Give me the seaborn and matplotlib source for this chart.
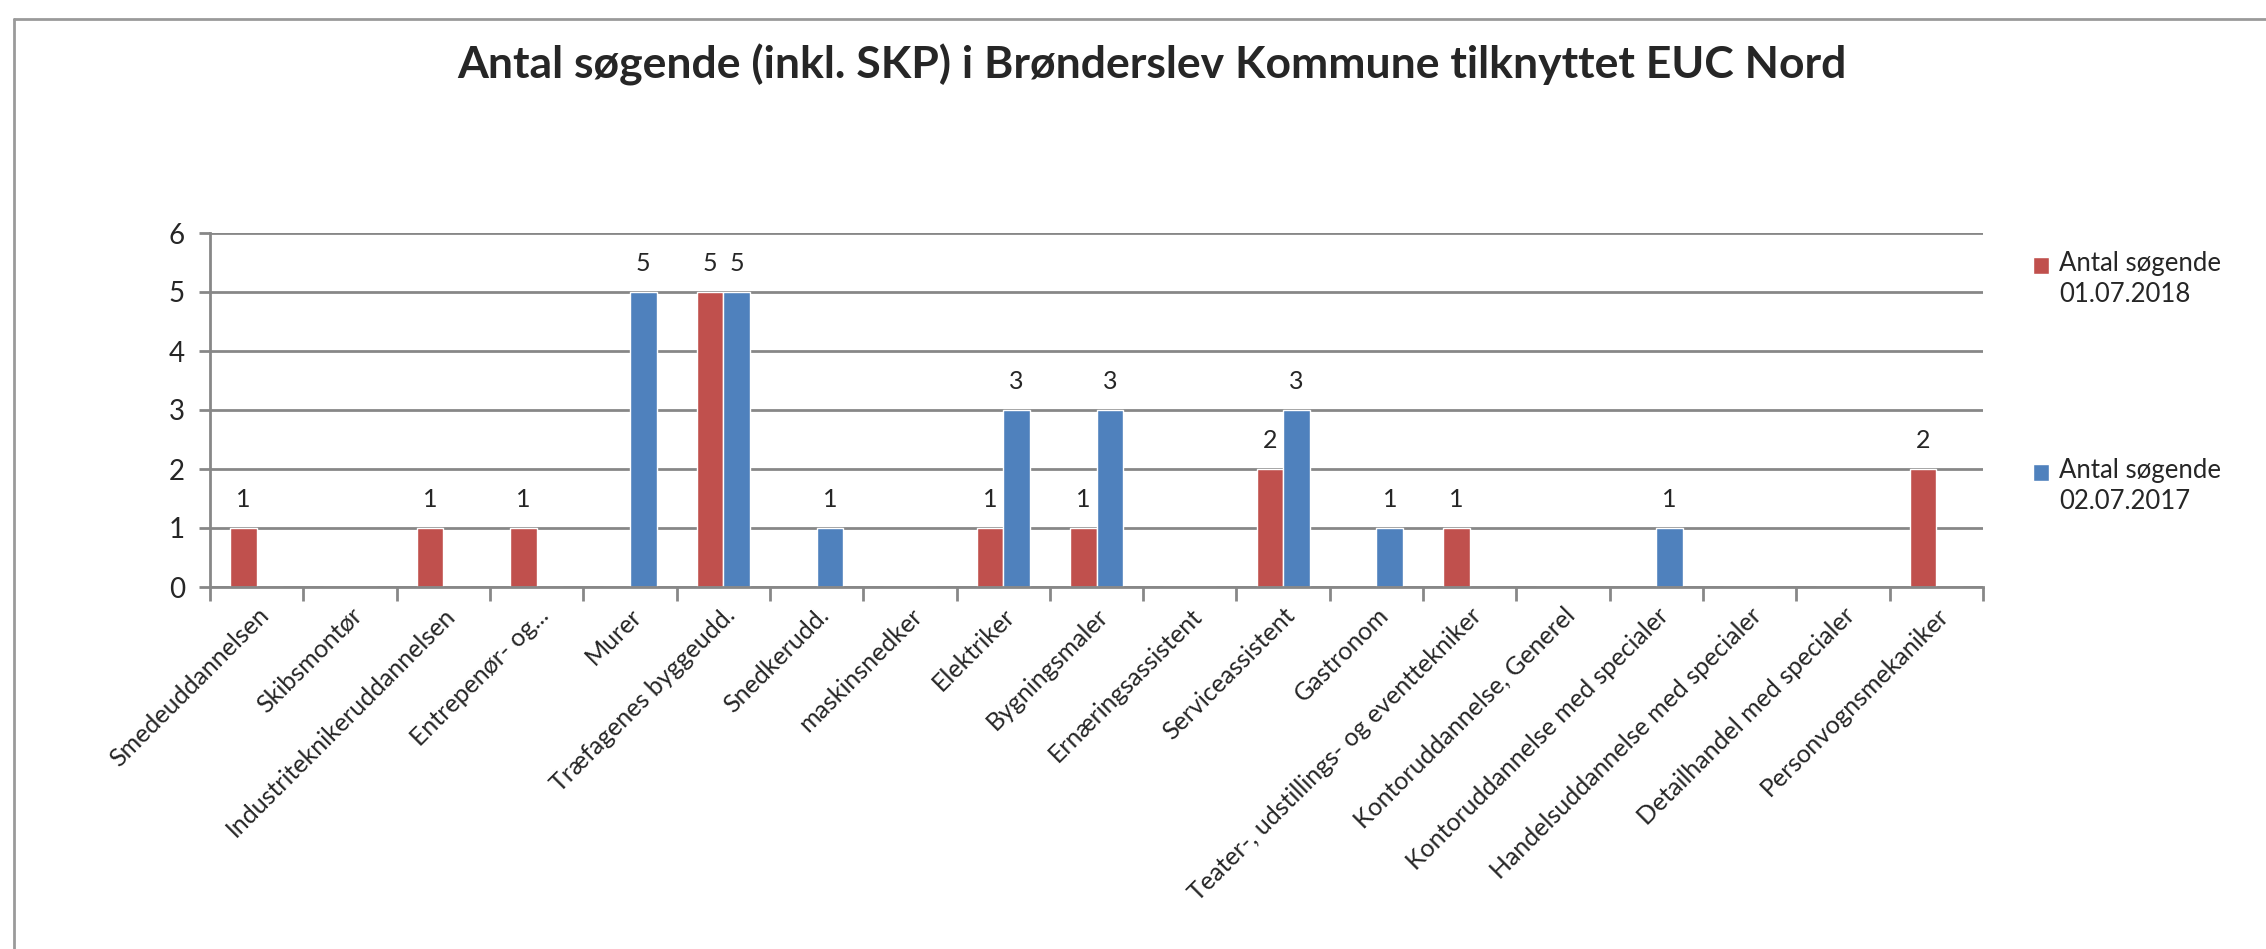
import pandas as pd
import numpy as np
import matplotlib
matplotlib.use('Agg')
import matplotlib.pyplot as plt
import seaborn as sns
from matplotlib.lines import Line2D

# Data
categories = ['Smedeuddannelsen', 'Skibsmontør', 'Industriteknikeruddannelsen',
              'Entrepenør- og...', 'Murer', 'Træfagenes byggeudd.', 'Snedkerudd.',
              'maskinsnedker', 'Elektriker', 'Bygningsmaler', 'Ernæringsassistent',
              'Serviceassistent', 'Gastronom', 'Teater-, udstillings- og eventtekniker',
              'Kontoruddannelse, Generel', 'Kontoruddannelse med specialer',
              'Handelsuddannelse med specialer', 'Detailhandel med specialer',
              'Personvognsmekaniker']
soegende_2018 = [1, 0, 1, 1, 0, 5, 0, 0, 1, 1, 0, 2, 0, 1, 0, 0, 0, 0, 2]
soegende_2017 = [0, 0, 0, 0, 5, 5, 1, 0, 3, 3, 0, 3, 1, 0, 0, 1, 0, 0, 0]
series_names = ['Antal søgende\n01.07.2018', 'Antal søgende\n02.07.2017']
colors = ['#C0504D', '#4F81BD']
title = 'Antal søgende (inkl. SKP) i Brønderslev Kommune tilknyttet EUC Nord'

df = pd.DataFrame({
    'Uddannelse': categories * 2,
    'Antal': soegende_2018 + soegende_2017,
    'Serie': [series_names[0]] * len(categories) + [series_names[1]] * len(categories),
})

sns.set_style('white')
plt.rcParams['font.family'] = ['Lato', 'DejaVu Sans']

fig = plt.figure(figsize=(22.66, 9.49), dpi=100)
ax = fig.add_axes([210 / 2266, 1 - 587 / 949, (1983 - 210) / 2266, (587 - 233) / 949])

sns.barplot(data=df, x='Uddannelse', y='Antal', hue='Serie', palette=colors,
            width=0.57, saturation=1, ax=ax, legend=True)

# data labels, skip zeros
for cont in ax.containers:
    labels = [f'{int(b.get_height())}' if b.get_height() > 0 else '' for b in cont]
    ax.bar_label(cont, labels=labels, padding=12, fontsize=18)

ax.set_ylim(0, 6)
ax.set_xlim(-0.5, len(categories) - 0.5)
ax.set_yticks(range(0, 7))
ax.yaxis.grid(True, color='#878787', linewidth=2)
ax.set_axisbelow(True)
for s in ['top', 'right']:
    ax.spines[s].set_visible(False)
for s in ['left', 'bottom']:
    ax.spines[s].set_color('#878787')
    ax.spines[s].set_linewidth(2)

ax.set_xlabel('')
ax.set_ylabel('')
ax.set_xticks(np.arange(len(categories)))
ax.set_xticklabels(categories, rotation=45, ha='right', rotation_mode='anchor', fontsize=18)
ax.tick_params(axis='x', length=0, pad=12)
ax.tick_params(axis='y', labelsize=20, length=8, width=2, color='#878787', left=True, pad=10)
# tick marks at category boundaries
ax.set_xticks(np.arange(-0.5, len(categories)), minor=True)
ax.tick_params(axis='x', which='minor', length=10, width=2, color='#878787', bottom=True)

leg = ax.legend(loc='upper left', bbox_to_anchor=(1.015, 1.015), frameon=False,
                fontsize=18.5, handlelength=0.62, handleheight=0.62, handletextpad=0.4,
                labelspacing=5.9)
for t in leg.get_texts():
    t.set_linespacing(1.3)
# squares sit level with the first text line, as in Excel
for p in leg.get_patches():
    p.set_y(p.get_y() + 10.5)

fig.text(1152 / 2266, 1 - 65 / 949, title, ha='center', va='center',
         fontsize=32, fontweight='bold')

# outer chart frame
fig.add_artist(Line2D([14 / 2266, 14 / 2266], [0, 1 - 19 / 949], color='#9a9a9a', lw=2))
fig.add_artist(Line2D([14 / 2266, 1], [1 - 19 / 949, 1 - 19 / 949], color='#9a9a9a', lw=2))

plt.savefig('out.png', dpi=100)
